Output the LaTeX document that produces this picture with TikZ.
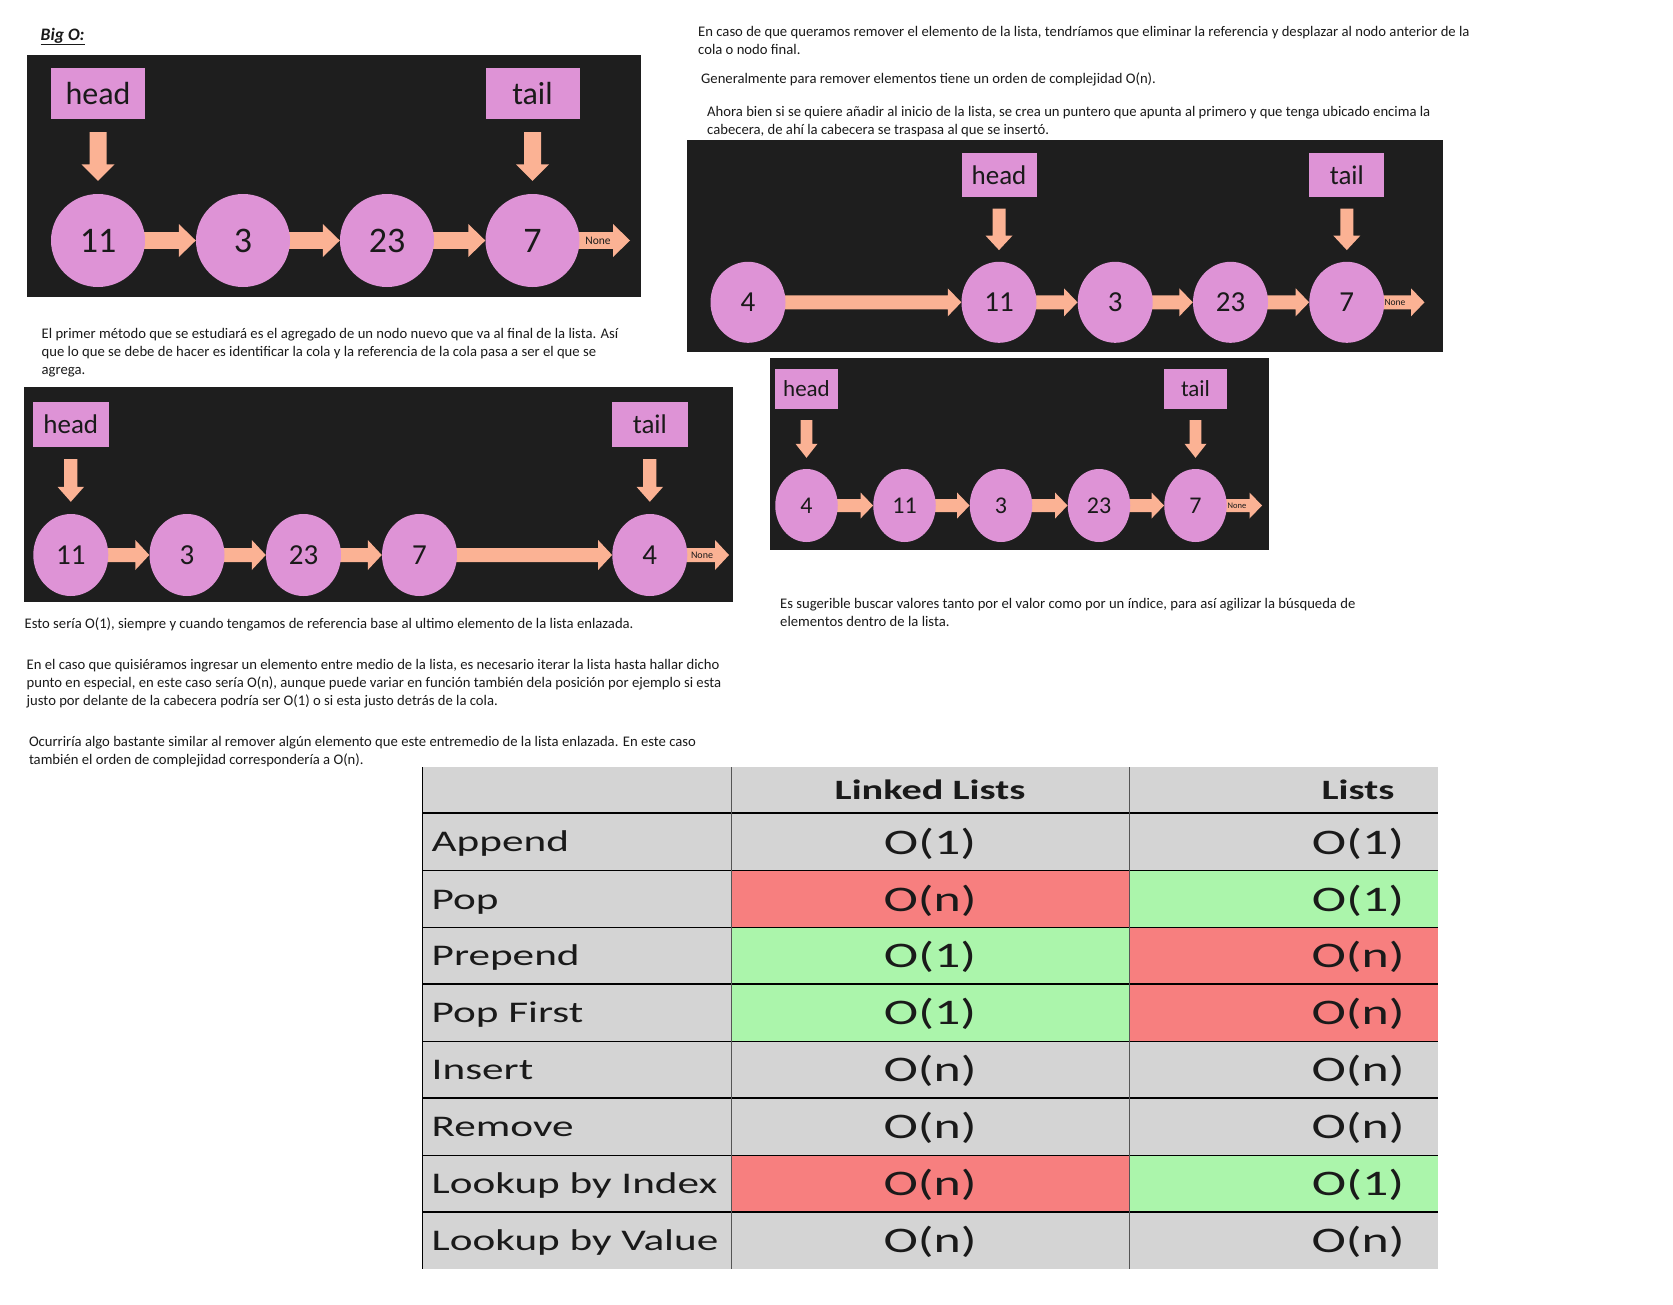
\documentclass[tikz,border=0pt]{standalone}
\usepackage{fontspec}
\setmainfont{Carlito}
\newfontfamily\tabfont[FakeStretch=1.44]{Carlito}
\usetikzlibrary{shapes.geometric,calc}
\definecolor{panelbg}{HTML}{1E1E1E}
\definecolor{nodec}{HTML}{DE93D6}
\definecolor{arrowc}{HTML}{FBB294}
\definecolor{txt}{HTML}{1A1A1A}
\definecolor{cellgrey}{HTML}{D4D4D4}
\definecolor{cellred}{HTML}{F77F7F}
\definecolor{cellgreen}{HTML}{ABF5AB}
\definecolor{sepgrey}{HTML}{555555}
\pgfdeclarelayer{panels}\pgfdeclarelayer{arrows}
\pgfsetlayers{panels,arrows,main}
% horizontal block arrow: from node, to point, shaft half, head half, head length
\newcommand\LLharrow[5]{\fill[arrowc] let \p1=(#1.east), \p2=(#2) in (\x1-6pt,\y1+#3) -- (\x2-#5,\y1+#3) -- (\x2-#5,\y1+#4) -- (\x2,\y1) -- (\x2-#5,\y1-#4) -- (\x2-#5,\y1-#3) -- (\x1-6pt,\y1-#3) -- cycle;}
% vertical block arrow: box, circle, shaft half, head half, head length, gap
\newcommand\LLvarrow[6]{\fill[arrowc] let \p1=(#1.south), \p2=(#2.north) in (\x1-#3,\y1-#6) -- (\x1+#3,\y1-#6) -- (\x1+#3,\y2+#6+#5) -- (\x1+#4,\y2+#6+#5) -- (\x1,\y2+#6) -- (\x1-#4,\y2+#6+#5) -- (\x1-#3,\y2+#6+#5) -- cycle;}
\tikzset{
  llnode/.style={ellipse, fill=nodec, inner sep=0pt, text=txt},
  llbox/.style={rectangle, fill=nodec, inner sep=0pt, text=txt},
  para/.style={anchor=base west, inner sep=0pt, text=txt, font=\fontsize{14.67}{17}\selectfont},
  nonetxt/.style={inner sep=0pt, text=txt},
  rowlabel/.style={anchor=base west, inner sep=0pt, text=txt, font=\tabfont\fontsize{30}{30}\selectfont},
  cellval/.style={anchor=base, inner sep=0pt, text=txt, font=\tabfont\fontsize{36}{36}\selectfont},
  headtxt/.style={anchor=base, inner sep=0pt, text=txt, font=\tabfont\bfseries\fontsize{28}{28}\selectfont},
}
\begin{document}
\begin{tikzpicture}[x=1pt,y=-1pt]
\useasboundingbox (0,0) rectangle (1673,1304);

% ---------- texts ----------
\node[anchor=base west, inner sep=0pt, text=txt, font=\fontsize{17.5}{20}\selectfont\bfseries\itshape] (title) at (40.5,40) {\underline{Big O:}};
\node[para] (t1) at (698,36) {En caso de que queramos remover el elemento de la lista, tendríamos que eliminar la referencia y desplazar al nodo anterior de la};
\node[para] (t2) at (698,54) {cola o nodo final.};
\node[para] (t3) at (701,83) {Generalmente para remover elementos tiene un orden de complejidad O(n).};
\node[para] (t4) at (707,116) {Ahora bien si se quiere añadir al inicio de la lista, se crea un puntero que apunta al primero y que tenga ubicado encima la};
\node[para] (t5) at (707,134) {cabecera, de ahí la cabecera se traspasa al que se insertó.};
\node[para] (t6) at (41.5,338) {El primer método que se estudiará es el agregado de un nodo nuevo que va al final de la lista. Así};
\node[para] (t7) at (41.5,356) {que lo que se debe de hacer es identificar la cola y la referencia de la cola pasa a ser el que se};
\node[para] (t8) at (41.5,374) {agrega.};
\node[para] (t9) at (24.5,628) {Esto sería O(1), siempre y cuando tengamos de referencia base al ultimo elemento de la lista enlazada.};
\node[para] (t10) at (26.5,669.5) {En el caso que quisiéramos ingresar un elemento entre medio de la lista, es necesario iterar la lista hasta hallar dicho};
\node[para] (t11) at (26.5,687.5) {punto en especial, en este caso sería O(n), aunque puede variar en función también dela posición por ejemplo si esta};
\node[para] (t12) at (26.5,705.5) {justo por delante de la cabecera podría ser O(1) o si esta justo detrás de la cola.};
\node[para] (t13) at (28.8,746.5) {Ocurriría algo bastante similar al remover algún elemento que este entremedio de la lista enlazada. En este caso};
\node[para] (t14) at (28.8,764.5) {también el orden de complejidad correspondería a O(n).};
\node[para] (t15) at (780,608) {Es sugerible buscar valores tanto por el valor como por un índice, para así agilizar la búsqueda de};
\node[para] (t16) at (780,626) {elementos dentro de la lista.};

% ---------- panel backgrounds ----------
\begin{pgfonlayer}{panels}
\fill[white] (0,0) rectangle (1673,1304);
\fill[panelbg] (27,55) rectangle (641,297);
\fill[panelbg] (687,140) rectangle (1442.5,352);
\fill[panelbg] (769.5,358) rectangle (1268.6,549.5);
\fill[panelbg] (23.5,387) rectangle (733,601.5);
\end{pgfonlayer}

% ---------- panel 1 ----------
\begin{scope}[every node/.append style={font=\fontsize{36}{36}\selectfont}]
\node[llbox, minimum width=94pt, minimum height=51pt, font=\fontsize{32}{32}\selectfont] (p1h) at (98,93.5) {head};
\node[llbox, minimum width=94pt, minimum height=51pt, font=\fontsize{32}{32}\selectfont] (p1t) at (532.5,93.5) {tail};
\node[llnode, minimum width=94pt, minimum height=93pt] (p1a) at (98,240.5) {11};
\node[llnode, minimum width=94pt, minimum height=93pt] (p1b) at (243,240.5) {3};
\node[llnode, minimum width=94pt, minimum height=93pt] (p1c) at (387,240.5) {23};
\node[llnode, minimum width=94pt, minimum height=93pt] (p1d) at (532.5,240.5) {7};
\end{scope}
\coordinate (p1end) at (630,240.5);
\node[nonetxt, font=\fontsize{11.5}{12}\selectfont] (p1none) at (598,240.5) {None};
\begin{pgfonlayer}{arrows}
\LLvarrow{p1h}{p1a}{8.5pt}{16.5pt}{16.5pt}{13pt}
\LLvarrow{p1t}{p1d}{8.5pt}{16.5pt}{16.5pt}{13pt}
\LLharrow{p1a}{p1b.west}{8.3pt}{16.5pt}{17pt}
\LLharrow{p1b}{p1c.west}{8.3pt}{16.5pt}{17pt}
\LLharrow{p1c}{p1d.west}{8.3pt}{16.5pt}{17pt}
\LLharrow{p1d}{p1end}{8.3pt}{16.5pt}{17pt}
\end{pgfonlayer}

% ---------- panel 2 ----------
\begin{scope}[every node/.append style={font=\fontsize{29}{29}\selectfont}]
\node[llbox, minimum width=75pt, minimum height=44pt, font=\fontsize{27}{27}\selectfont] (p2h) at (999,175) {head};
\node[llbox, minimum width=75pt, minimum height=44pt, font=\fontsize{27}{27}\selectfont] (p2t) at (1346.8,175) {tail};
\node[llnode, minimum width=75pt, minimum height=81pt] (p2a) at (748,302.3) {4};
\node[llnode, minimum width=75pt, minimum height=81pt] (p2b) at (999,302.3) {11};
\node[llnode, minimum width=75pt, minimum height=81pt] (p2c) at (1115.2,302.3) {3};
\node[llnode, minimum width=75pt, minimum height=81pt] (p2d) at (1230.5,302.3) {23};
\node[llnode, minimum width=75pt, minimum height=81pt] (p2e) at (1346.8,302.3) {7};
\end{scope}
\coordinate (p2end) at (1424.5,302.3);
\node[nonetxt, font=\fontsize{9.5}{10}\selectfont] (p2none) at (1395,302.3) {None};
\begin{pgfonlayer}{arrows}
\LLvarrow{p2h}{p2b}{6.5pt}{13.5pt}{14.5pt}{11.5pt}
\LLvarrow{p2t}{p2e}{6.5pt}{13.5pt}{14.5pt}{11.5pt}
\LLharrow{p2a}{p2b.west}{7pt}{14pt}{13.5pt}
\LLharrow{p2b}{p2c.west}{7pt}{14pt}{13.5pt}
\LLharrow{p2c}{p2d.west}{7pt}{14pt}{13.5pt}
\LLharrow{p2d}{p2e.west}{7pt}{14pt}{13.5pt}
\LLharrow{p2e}{p2end}{7pt}{14pt}{13.5pt}
\end{pgfonlayer}

% ---------- panel 3 ----------
\begin{scope}[every node/.append style={font=\fontsize{24}{24}\selectfont}]
\node[llbox, minimum width=63pt, minimum height=40pt, font=\fontsize{23}{23}\selectfont] (p3h) at (806.5,389) {head};
\node[llbox, minimum width=63pt, minimum height=40pt, font=\fontsize{23}{23}\selectfont] (p3t) at (1195.5,389) {tail};
\node[llnode, minimum width=62.5pt, minimum height=73pt] (p3a) at (806.5,505.5) {4};
\node[llnode, minimum width=62.5pt, minimum height=73pt] (p3b) at (904.5,505.5) {11};
\node[llnode, minimum width=62.5pt, minimum height=73pt] (p3c) at (1001,505.5) {3};
\node[llnode, minimum width=62.5pt, minimum height=73pt] (p3d) at (1099,505.5) {23};
\node[llnode, minimum width=62.5pt, minimum height=73pt] (p3e) at (1195.5,505.5) {7};
\end{scope}
\coordinate (p3end) at (1262,505.5);
\node[nonetxt, font=\fontsize{8.5}{9}\selectfont] (p3none) at (1237,505.5) {None};
\begin{pgfonlayer}{arrows}
\LLvarrow{p3h}{p3a}{5.8pt}{11pt}{14pt}{11pt}
\LLvarrow{p3t}{p3e}{5.8pt}{11pt}{14pt}{11pt}
\LLharrow{p3a}{p3b.west}{6.5pt}{13pt}{12.5pt}
\LLharrow{p3b}{p3c.west}{6.5pt}{13pt}{12.5pt}
\LLharrow{p3c}{p3d.west}{6.5pt}{13pt}{12.5pt}
\LLharrow{p3d}{p3e.west}{6.5pt}{13pt}{12.5pt}
\LLharrow{p3e}{p3end}{6.5pt}{13pt}{12.5pt}
\end{pgfonlayer}

% ---------- panel 4 ----------
\begin{scope}[every node/.append style={font=\fontsize{29}{29}\selectfont}]
\node[llbox, minimum width=75.5pt, minimum height=45pt, font=\fontsize{27}{27}\selectfont] (p4h) at (70.8,424.5) {head};
\node[llbox, minimum width=75.5pt, minimum height=45pt, font=\fontsize{27}{27}\selectfont] (p4t) at (649.8,424.5) {tail};
\node[llnode, minimum width=75pt, minimum height=82pt] (p4a) at (70.8,555) {11};
\node[llnode, minimum width=75pt, minimum height=82pt] (p4b) at (187,555) {3};
\node[llnode, minimum width=75pt, minimum height=82pt] (p4c) at (303.5,555) {23};
\node[llnode, minimum width=75pt, minimum height=82pt] (p4d) at (419.5,555) {7};
\node[llnode, minimum width=75pt, minimum height=82pt] (p4e) at (649.8,555) {4};
\end{scope}
\coordinate (p4end) at (729,555);
\node[nonetxt, font=\fontsize{10}{10}\selectfont] (p4none) at (702,555) {None};
\begin{pgfonlayer}{arrows}
\LLvarrow{p4h}{p4a}{6.6pt}{13.3pt}{15pt}{12pt}
\LLvarrow{p4t}{p4e}{6.6pt}{13.3pt}{15pt}{12pt}
\LLharrow{p4a}{p4b.west}{7pt}{15pt}{14pt}
\LLharrow{p4b}{p4c.west}{7pt}{15pt}{14pt}
\LLharrow{p4c}{p4d.west}{7pt}{15pt}{14pt}
\LLharrow{p4d}{p4e.west}{7pt}{15pt}{14pt}
\LLharrow{p4e}{p4end}{7pt}{15pt}{14pt}
\end{pgfonlayer}

% ---------- table ----------
\fill[cellgrey] (422.5,767) rectangle (1438,1268.7);
\fill[cellred]   (731.5,870.5) rectangle (1129,927.5);
\fill[cellgreen] (1129,870.5) rectangle (1438,927.5);
\fill[cellgreen] (731.5,927.5) rectangle (1129,1041.5);
\fill[cellred]   (1129,927.5) rectangle (1438,1041.5);
\fill[cellred]   (731.5,1155.5) rectangle (1129,1212);
\fill[cellgreen] (1129,1155.5) rectangle (1438,1212);
\foreach \yy in {813,870.5,927.5,984,1041.5,1098,1155.5,1212}
  \draw[line width=1.6pt, black] (422.5,\yy) -- (1438,\yy);
\draw[line width=1pt, sepgrey] (731.5,767) -- (731.5,1268.7);
\draw[line width=1pt, sepgrey] (1129,767) -- (1129,1268.7);
\draw[line width=1.6pt, black] (422.5,767) -- (422.5,1268.7);

\node[headtxt] (hdll) at (930,799) {Linked Lists};
\node[headtxt] (hdl) at (1358,799) {Lists};

\node[rowlabel] (r1) at (431.5,851.5) {Append};
\node[rowlabel] (r2) at (431.5,909) {Pop};
\node[rowlabel] (r3) at (431.5,965.5) {Prepend};
\node[rowlabel] (r4) at (431.5,1022.5) {Pop First};
\node[rowlabel] (r5) at (431.5,1079.5) {Insert};
\node[rowlabel] (r6) at (431.5,1136.5) {Remove};
\node[rowlabel] (r7) at (431.5,1193.5) {Lookup by Index};
\node[rowlabel] (r8) at (431.5,1250) {Lookup by Value};

\node[cellval] (v1a) at (930,854) {O(1)};  \node[cellval] (v1b) at (1358,854) {O(1)};
\node[cellval] (v2a) at (930,911) {O(n)};  \node[cellval] (v2b) at (1358,911) {O(1)};
\node[cellval] (v3a) at (930,967.5) {O(1)};  \node[cellval] (v3b) at (1358,967.5) {O(n)};
\node[cellval] (v4a) at (930,1024.5) {O(1)}; \node[cellval] (v4b) at (1358,1024.5) {O(n)};
\node[cellval] (v5a) at (930,1081.5) {O(n)}; \node[cellval] (v5b) at (1358,1081.5) {O(n)};
\node[cellval] (v6a) at (930,1138.5) {O(n)}; \node[cellval] (v6b) at (1358,1138.5) {O(n)};
\node[cellval] (v7a) at (930,1195.5) {O(n)}; \node[cellval] (v7b) at (1358,1195.5) {O(1)};
\node[cellval] (v8a) at (930,1252) {O(n)};   \node[cellval] (v8b) at (1358,1252) {O(n)};
\end{tikzpicture}
\end{document}
